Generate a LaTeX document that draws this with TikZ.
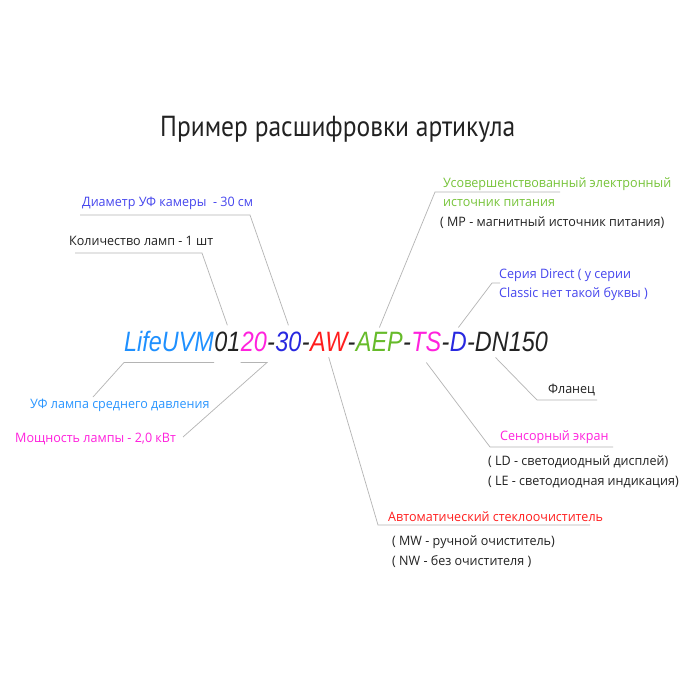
\documentclass[tikz,border=0pt]{standalone}
\usepackage{fontspec}
\setmainfont{Open Sans}[FakeStretch=0.965]
\newfontfamily\titlefont{PT Sans}[FakeStretch=0.88]
\newfontfamily\codefont{Liberation Sans}[FakeStretch=0.836]
\definecolor{cLife}{HTML}{1E90FF}
\definecolor{cMag}{HTML}{FF22DD}
\definecolor{cBlue}{HTML}{2828E0}
\definecolor{cRed}{HTML}{FF1E1E}
\definecolor{cGreen}{HTML}{66BB2A}
\definecolor{cViolet}{HTML}{4646EE}
\definecolor{cSky}{HTML}{2A96FF}
\definecolor{cLeaf}{HTML}{77C43A}
\definecolor{ink}{HTML}{222222}
\definecolor{leadgray}{HTML}{B4B4B4}
\tikzset{
  code/.style={inner sep=0pt, anchor=base west, text=ink, font=\codefont\itshape\fontsize{28}{28}\selectfont},
  note/.style={inner sep=0pt, anchor=base west, text=ink, font=\fontsize{13}{15}\selectfont},
  lead/.style={draw=leadgray, line width=0.7pt}
}
\begin{document}
\begin{tikzpicture}[x=1pt,y=-1pt]
\fill[white] (0,0) rectangle (700,700);
\useasboundingbox (0,0) rectangle (700,700);

\node[inner sep=0pt, anchor=base west, text=ink, font=\titlefont\fontsize{29}{31}\selectfont] (title) at (160,137) {Пример расшифровки артикула};

% article code
\node[code, text=cLife] (lv) at (124,351) {LifeUVM};
\foreach \t/\c/\n [remember=\n as \last (initially lv)] in
  {01/ink/n01, 20/cMag/n20, -/ink/d1, 30/cBlue/n30, -/ink/d2, AW/cRed/aw,
   -/ink/d3, AEP/cGreen/aep, -/ink/d4, TS/cMag/ts, -/ink/d5, D/cBlue/dd, -DN150/ink/dn}{
  \node[code, text=\c] (\n) at (\last.base east) {\t};
}

% labels
\node[note, text=cViolet] (t1) at (82,207) {Диаметр УФ камеры ~- 30 см};
\node[note] (t2) at (69,246) {Количество ламп - 1 шт};
\node[note, text=cSky] (t3) at (30,408) {УФ лампа среднего давления};
\node[note, text=cMag] (t4) at (15,442) {Мощность лампы - 2,0 кВт};

\node[note, text=cRed] (t5) at (388,521) {Автоматический стеклоочиститель};
\node[note] (t5a) at (392,545) {( MW - ручной очиститель)};
\node[note] (t5b) at (392,565) {( NW - без очистителя )};

\node[note, text=cMag] (t6) at (500,440) {Сенсорный экран};
\node[note] (t6a) at (488,465) {( LD - светодиодный дисплей)};
\node[note] (t6b) at (488,485) {( LE - светодиодная индикация)};

\node[note] (t7) at (548,393) {Фланец};

\node[note, text=cViolet] (t8) at (499,278) {Серия Direct ( у серии};
\node[note, text=cViolet] (t8a) at (499,297) {Classic нет такой буквы )};

\node[note, text=cLeaf] (t9) at (443,188) {Усовершенствованный электронный};
\node[note, text=cLeaf] (t9a) at (443,207) {источник питания};
\node[note] (t9b) at (440,227) {( MP - магнитный источник питания)};

% leader lines
\coordinate (b1) at (250,215); \coordinate (e1) at (80,215);
\coordinate (b2) at (202,253); \coordinate (e2) at (75,253);
\coordinate (e3) at (93,397);
\coordinate (e4) at (183,437);
\coordinate (b5) at (378,525); \coordinate (e5) at (590,525);
\coordinate (b6) at (490,447); \coordinate (e6) at (613,447);
\coordinate (b7) at (537,400); \coordinate (e7) at (597,400);
\coordinate (b8) at (492,283); \coordinate (e8) at (500,283);
\coordinate (b9) at (435,192); \coordinate (e9) at (560,192);

\draw[lead] ([yshift=6pt]n30.north) -- (b1) -- (e1);
\draw[lead] ([yshift=6pt]n01.north) -- (b2) -- (e2);
\draw[lead] ([yshift=-11pt]lv.south east) -- ([yshift=-11pt]lv.south west) -- (e3);
\draw[lead] ([yshift=-11pt]n20.south west) -- ([yshift=-11pt]n20.south east) -- (e4);
\draw[lead] ([yshift=-6pt]aw.south) -- (b5) -- (e5);
\draw[lead] ([yshift=-11pt]ts.south) -- (b6) -- (e6);
\draw[lead] ([xshift=-12pt,yshift=-6pt]dn.south) -- (b7) -- (e7);
\draw[lead] ([yshift=4pt]dd.north) -- (b8) -- (e8);
\draw[lead] ([yshift=4pt]aep.north) -- (b9) -- (e9);
\end{tikzpicture}
\end{document}
